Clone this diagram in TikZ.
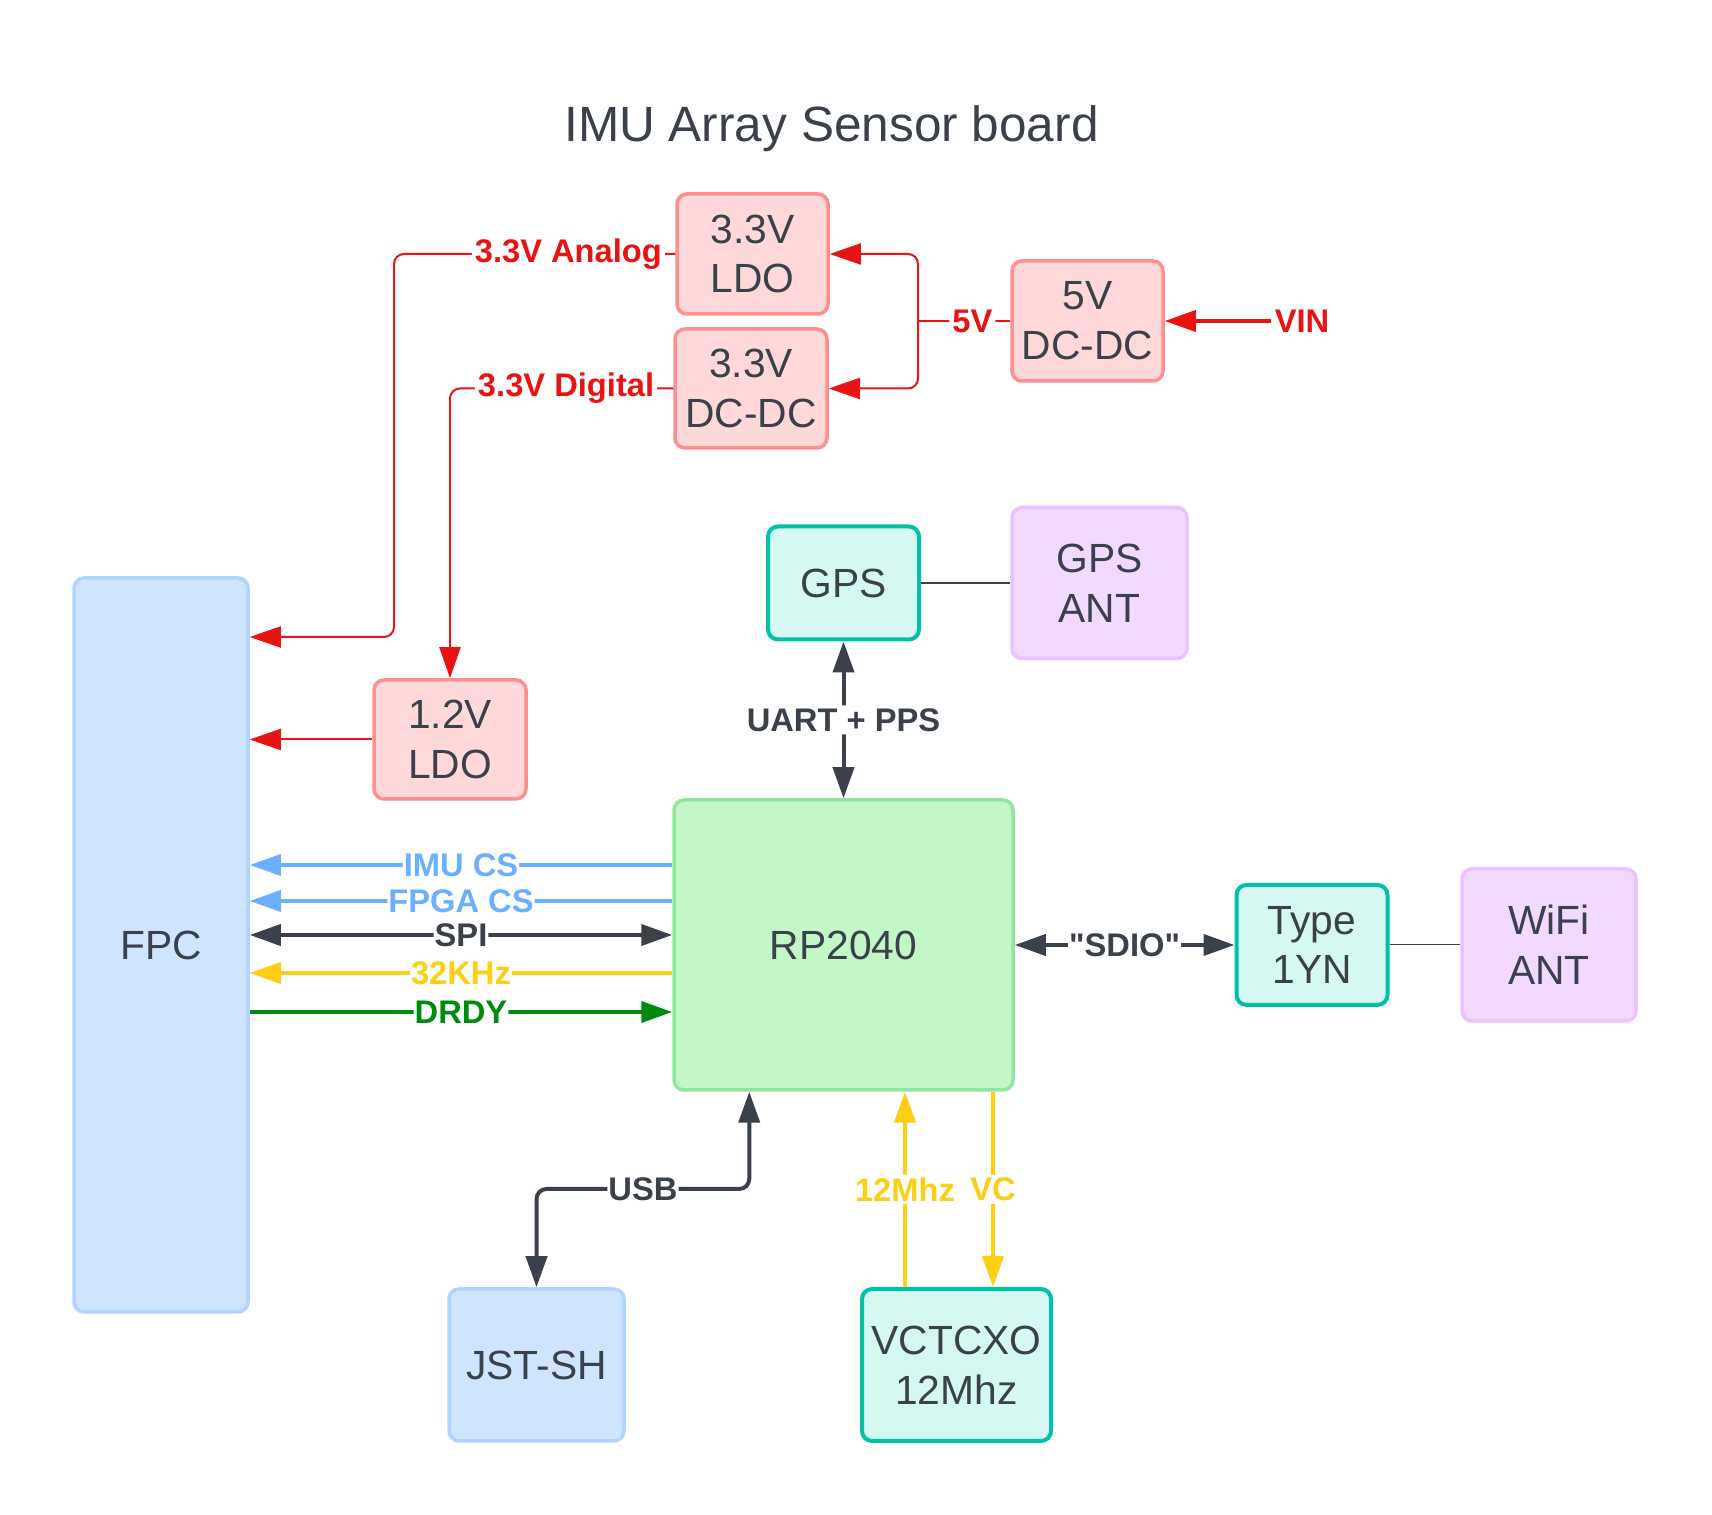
\documentclass[tikz,border=0pt]{standalone}
\usepackage{fontspec}
\setmainfont{Liberation Sans}[Ligatures=TeXOff]
\usetikzlibrary{arrows.meta}

\definecolor{ink}{HTML}{3A414A}
\definecolor{pwrfill}{HTML}{FFD9D9}
\definecolor{pwrline}{HTML}{FF8F8F}
\definecolor{pwrwire}{HTML}{E81313}
\definecolor{mcufill}{HTML}{C3F7C8}
\definecolor{mculine}{HTML}{92E59E}
\definecolor{modfill}{HTML}{D6F8F2}
\definecolor{modline}{HTML}{00C2A8}
\definecolor{confill}{HTML}{CFE4FF}
\definecolor{conline}{HTML}{B0D3FF}
\definecolor{antfill}{HTML}{F2D9FF}
\definecolor{antline}{HTML}{EBC2FF}
\definecolor{csline}{HTML}{6AB0FF}
\definecolor{clkline}{HTML}{FCCE14}
\definecolor{rdyline}{HTML}{008A0E}

\tikzset{
  blk/.style={draw,rounded corners=1mm,line width=0.35mm,align=center,text=ink,inner sep=0pt,font=\fontsize{11.6}{14.2}\selectfont},
  pwr/.style={blk,draw=pwrline,fill=pwrfill},
  mcu/.style={blk,draw=mculine,fill=mcufill},
  mod/.style={blk,draw=modline,fill=modfill,line width=0.4mm},
  con/.style={blk,draw=conline,fill=confill},
  ant/.style={blk,draw=antline,fill=antfill},
  lbl/.style={fill=white,inner sep=0.3mm,font=\fontsize{9.3}{11}\selectfont\bfseries},
  wire/.style={line width=0.4mm,rounded corners=1mm},
  pwire/.style={wire,pwrwire,line width=0.2mm},
}

\begin{document}
\begin{tikzpicture}[x=0.1mm,y=-0.1mm,>={Triangle[length=3.1mm,width=2.1mm]}]
	\useasboundingbox (0,0) rectangle (1712,1515);
	\node[text=ink,font=\fontsize{14.1}{17}\selectfont,anchor=base] (title) at (831.5,142) {IMU Array Sensor board};

	% power tree
	\node[pwr,minimum width=15.1mm,minimum height=12mm] (ldo33) at (752.5,254) {3.3V\\LDO};
	\node[pwr,minimum width=15.2mm,minimum height=11.9mm] (dcdc33) at (751,388.5) {3.3V\\DC-DC};
	\node[pwr,minimum width=15.1mm,minimum height=12mm] (dc5) at (1087.5,321) {5V\\DC-DC};
	\node[pwr,minimum width=15.2mm,minimum height=11.9mm] (ldo12) at (450,739.5) {1.2V\\LDO};
	\node[lbl,text=pwrwire] (vin) at (1302,321) {VIN};

	% blocks
	\node[con,minimum width=17.4mm,minimum height=73.4mm] (fpc) at (161,945) {FPC};
	\node[mcu,minimum width=33.9mm,minimum height=29mm] (rp) at (843.5,945) {RP2040};
	\node[mod,minimum width=15.1mm,minimum height=11.3mm] (gps) at (843.5,583) {GPS};
	\node[ant,minimum width=17.5mm,minimum height=15.1mm] (gpsant) at (1099.5,583) {GPS\\ANT};
	\node[mod,minimum width=15.1mm,minimum height=12mm] (phy) at (1312,945) {Type\\1YN};
	\node[ant,minimum width=17.4mm,minimum height=15.2mm] (wifiant) at (1549,945) {WiFi\\ANT};
	\node[con,minimum width=17.5mm,minimum height=15.2mm] (jst) at (536.5,1365) {JST-SH};
	\node[mod,minimum width=18.9mm,minimum height=15.2mm] (tcxo) at (956.5,1365) {VCTCXO\\12Mhz};

	\coordinate (split) at (918,321);
	\coordinate (anabend) at (394,637);
	\coordinate (usbbend) at (643,1189);

	\draw[pwire,line width=0.35mm,->] (vin) -- (dc5);
	\draw[pwire] (dc5) -- node[lbl,text=pwrwire,pos=0.41]{5V} (split);
	\draw[pwire,->] (split) |- (ldo33);
	\draw[pwire,->] (split) |- (dcdc33);
	\draw[pwire,->] (ldo33) -| node[lbl,text=pwrwire,pos=0.19]{3.3V Analog} (anabend) -- (anabend -| fpc.east);
	\draw[pwire,->] (dcdc33) -| node[lbl,text=pwrwire,pos=0.24]{3.3V Digital} (ldo12);
	\draw[pwire,->] (ldo12) -- (ldo12 -| fpc.east);

	\draw[wire,ink,<->] (gps) -- node[lbl,text=ink]{UART + PPS} (rp);
	\draw[ink,line width=0.15mm] (gps) -- (gpsant);
	\draw[wire,ink,<->] (rp) -- node[lbl,text=ink,inner sep=0.1mm]{"SDIO"} (phy);
	\draw[ink,line width=0.1mm] (phy) -- (wifiant);

	\draw[wire,csline,line width=0.35mm,->] ([yshift=8mm]rp.west) -- node[lbl,text=csline,inner sep=0.1mm]{IMU CS} ([yshift=8mm]rp.west -| fpc.east);
	\draw[wire,csline,line width=0.35mm,->] ([yshift=4.4mm]rp.west) -- node[lbl,text=csline,inner sep=0.1mm]{FPGA CS} ([yshift=4.4mm]rp.west -| fpc.east);
	\draw[wire,ink,<->] ([yshift=1mm]rp.west) -- node[lbl,text=ink,inner sep=0.1mm]{SPI} ([yshift=1mm]rp.west -| fpc.east);
	\draw[wire,clkline,->] ([yshift=-2.8mm]rp.west) -- node[lbl,text=clkline,inner sep=0.1mm]{32KHz} ([yshift=-2.8mm]rp.west -| fpc.east);
	\draw[wire,rdyline,<-] ([yshift=-6.7mm]rp.west) -- node[lbl,text=rdyline,inner sep=0.1mm]{DRDY} ([yshift=-6.7mm]rp.west -| fpc.east);

	\draw[wire,ink,<->] (jst) |- (usbbend) node[lbl,text=ink,inner sep=0.1mm]{USB} -| ([xshift=7.7mm]rp.south west);
	\draw[wire,clkline,->] ([xshift=4.5mm]tcxo.north west) -- node[lbl,text=clkline]{12Mhz} ([xshift=4.5mm]tcxo.north west |- rp.south);
	\draw[wire,clkline,->] ([xshift=13.3mm]tcxo.north west |- rp.south) -- node[lbl,text=clkline]{VC} ([xshift=13.3mm]tcxo.north west);
\end{tikzpicture}
\end{document}
